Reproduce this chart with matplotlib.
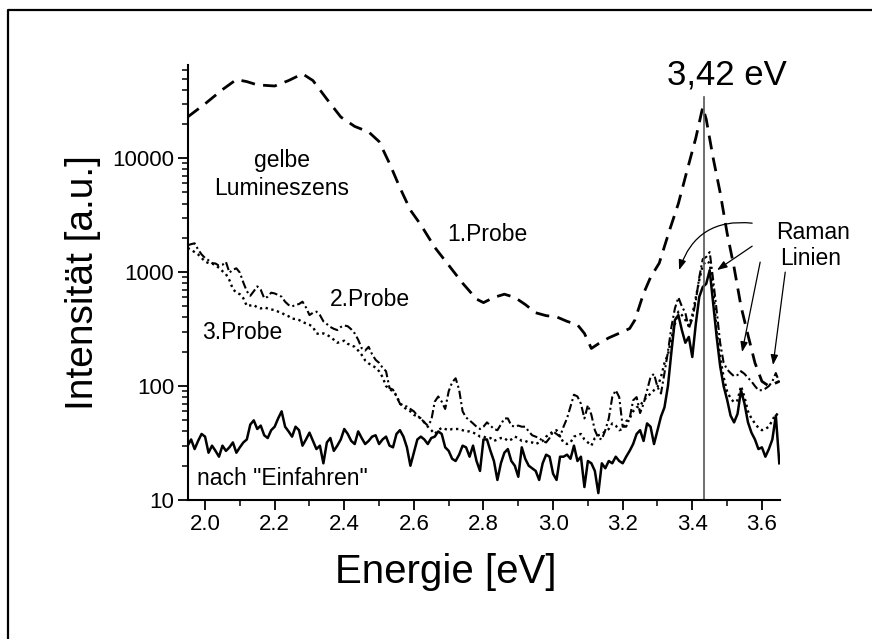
import numpy as np
import matplotlib
matplotlib.use("Agg")
import matplotlib.pyplot as plt
from matplotlib.ticker import LogLocator, MultipleLocator, NullFormatter
from matplotlib.lines import Line2D

plt.rcParams['font.family'] = ['Liberation Sans', 'DejaVu Sans']

# Energie-Raster der Messkurven (eV)
energie = np.round(np.arange(1.95, 3.6551, 0.01), 2)

# nach "Einfahren" (durchgezogen)
probe_einfahren = [
    30, 34, 28, 33, 38, 36, 26, 30, 27, 24,
    30, 27, 29, 32, 26, 29, 32, 34, 46, 50,
    42, 45, 37, 35, 41, 44, 52, 60, 44, 40,
    36, 44, 41, 30, 34, 39, 33, 28, 30, 21,
    32, 35, 27, 30, 34, 42, 38, 33, 31, 40,
    35, 31, 33, 36, 37, 31, 34,
    36, 30, 29, 38, 41, 36, 29, 20, 26, 34,
    36, 34, 31, 35, 36, 40, 38, 29, 27, 23,
    22, 25, 30, 29, 24, 30, 22, 18, 34, 34,
    27, 22, 15, 21, 26, 28, 22, 20, 16, 29,
    23, 20, 19, 18, 15, 21, 25, 24, 17, 15,
    24, 24, 25, 23, 30, 22, 24,
    13, 22, 21, 18, 11.5, 21, 19, 22, 21, 24,
    22, 21, 24, 27, 31, 38, 41, 33, 47, 44,
    31, 41, 54,
    65, 100, 200, 380, 420, 310, 240, 270, 180, 350,
    607, 740, 790, 1040, 530, 270, 150, 100, 76, 55,
    48, 57, 92, 70, 48, 39, 34, 28, 29, 24,
    28, 34, 55, 21,
]

# 2.Probe (strichpunktiert)
probe2 = [
    1720, 1760, 1790, 1580, 1430, 1330, 1270, 1200, 1190, 1140,
    1160, 1230, 990, 1050, 1080, 990, 810, 680, 620, 680,
    750, 700, 590, 608, 660, 650, 630, 608, 550, 515,
    500, 515, 525, 550, 490, 420, 440, 450, 420, 370,
    350, 330, 318, 310, 330, 340, 335, 315, 290, 255,
    215, 205, 221, 190, 170, 160, 145,
    135, 96, 93, 81, 70, 68, 66, 63, 60, 55,
    52, 48, 45, 50, 73, 81, 73, 63, 90, 108,
    117, 93, 60, 53, 50, 47, 44, 42, 44, 48,
    45, 42, 41, 46, 52, 52, 45, 44, 45, 44,
    44, 40, 37, 36, 35, 33, 32, 35, 40, 38,
    36, 44, 52, 66, 84, 81, 70,
    52, 68, 56, 41, 35, 34, 41, 52, 80, 92,
    80, 44, 44, 52, 75, 80, 58, 70, 92, 120,
    128, 98, 86,
    130, 200, 330, 480, 600, 500, 440, 320, 390, 560,
    900, 1300, 1360, 1500, 850, 460, 240, 160, 140, 130,
    122, 125, 135, 128, 118, 110, 100, 92, 92, 95,
    100, 110, 130, 108,
]

# 3.Probe (gepunktet)
probe3 = [
    1630, 1570, 1500, 1430, 1330, 1240, 1200, 1190, 1150, 1090,
    1020, 960, 850, 710, 660, 640, 590, 505, 510, 515,
    490, 480, 490, 480, 470, 465, 450, 440, 420, 410,
    390, 388, 380, 365, 355, 345, 330, 290, 285, 290,
    282, 270, 255, 240, 245, 250, 235, 228, 221, 205,
    188, 168, 158, 152, 145, 135, 120,
    100, 94, 90, 83, 70, 66, 62, 60, 56, 54,
    52, 48, 44, 41, 38, 41, 43, 42, 41, 42,
    42, 42, 41, 40, 40, 39, 38, 36, 36, 35,
    35, 33, 34, 35, 35, 33, 34, 36, 35, 33,
    33, 32, 32, 31, 32, 33, 36, 38, 40, 41,
    36, 32, 31, 32, 36, 37, 38,
    34, 32, 30, 35, 37, 38, 40, 42, 47, 45,
    41, 42, 49, 52, 60, 65, 67, 75, 80, 86,
    92, 98, 120,
    159, 190, 260, 350, 450, 420, 380, 340, 420, 600,
    850, 1150, 1250, 1200, 700, 300, 180, 120, 90, 78,
    72, 75, 100, 80, 60, 52, 47, 43, 41, 42,
    44, 50, 57, 55,
]

# 1.Probe (gestrichelt, glatt)
energie1 = [1.95, 2.00, 2.05, 2.09, 2.12, 2.15, 2.20, 2.24, 2.28, 2.31,
            2.35, 2.39, 2.43, 2.47, 2.50, 2.53, 2.56, 2.59, 2.62, 2.66,
            2.70, 2.74, 2.78, 2.80, 2.83, 2.86, 2.89, 2.92, 2.95, 2.98,
            3.01, 3.04, 3.07, 3.09, 3.11, 3.13, 3.16, 3.20, 3.22, 3.235,
            3.26, 3.28, 3.305, 3.335, 3.36, 3.385, 3.41, 3.425, 3.43, 3.44,
            3.46, 3.48, 3.50, 3.52, 3.54, 3.56, 3.58, 3.60, 3.62, 3.65]
probe1 = [23000, 30000, 40000, 49000, 47000, 44000, 43000, 48000, 55000, 48000,
          33000, 23000, 19000, 17000, 14000, 9000, 5500, 3500, 2600, 1650,
          1150, 800, 580, 540, 600, 640, 600, 520, 440, 415,
          405, 370, 345, 290, 214, 235, 265, 300, 320, 380,
          650, 900, 1200, 2350, 4000, 7800, 15000, 24000, 28000, 22000,
          10000, 5000, 2200, 1100, 500, 280, 160, 110, 100, 110]

raman_linie = 3.435

fig = plt.figure(figsize=(8.72, 6.39), dpi=100)
ax = fig.add_axes([0.2156, 0.2175, 0.6789, 0.6805])

ax.plot(energie1, probe1, color='black', lw=2.0, linestyle=(0, (5, 3)))
ax.plot(energie, probe2, color='black', lw=1.5, linestyle=(0, (4, 1.5, 1, 1.5)))
ax.plot(energie, probe3, color='black', lw=1.7, linestyle=(0, (1, 1.5)))
ax.plot(energie, probe_einfahren, color='black', lw=1.8)
ax.plot([raman_linie, raman_linie], [10, 34300], color='#555555', lw=1.2)

ax.set_yscale('log')
ax.set_xlim(1.951, 3.652)
ax.set_ylim(10, 65500)

ax.set_yticks([10, 100, 1000, 10000])
ax.set_yticklabels(['10', '100', '1000', '10000'])
ax.yaxis.set_minor_locator(LogLocator(base=10, subs=np.arange(2, 10)))
ax.yaxis.set_minor_formatter(NullFormatter())
ax.xaxis.set_major_locator(MultipleLocator(0.2))
ax.xaxis.set_minor_locator(MultipleLocator(0.1))
ax.xaxis.set_major_formatter(plt.FuncFormatter(lambda v, p: '%.1f' % v))

for s in ['top', 'right']:
    ax.spines[s].set_visible(False)
for s in ['left', 'bottom']:
    ax.spines[s].set_linewidth(1.5)
ax.tick_params(which='major', direction='out', length=7, width=1.3, labelsize=16, pad=3)
ax.tick_params(which='minor', direction='out', length=4, width=1.1)

ax.set_xlabel('Energie [eV]', fontsize=29)
ax.xaxis.set_label_coords(0.436, -0.122)
ax.set_ylabel('Intensität [a.u.]', fontsize=28, labelpad=8)

ts = 16.5
ax.text(2.22, 9600, 'gelbe', fontsize=ts, ha='center', va='center')
ax.text(2.22, 5460, 'Lumineszens', fontsize=ts, ha='center', va='center')
ax.text(2.81, 2150, '1.Probe', fontsize=ts, ha='center', va='center')
ax.text(2.474, 580, '2.Probe', fontsize=ts, ha='center', va='center')
ax.text(2.106, 298, '3.Probe', fontsize=ts, ha='center', va='center')
ax.text(2.221, 15.6, 'nach "Einfahren"', fontsize=ts, ha='center', va='center')
ax.text(3.747, 2245, 'Raman', fontsize=ts, ha='center', va='center', clip_on=False)
ax.text(3.741, 1327, 'Linien', fontsize=ts, ha='center', va='center', clip_on=False)
ax.text(3.50, 53400, '3,42 eV', fontsize=25, ha='center', va='center', clip_on=False)

akw = dict(arrowstyle='-|>,head_length=0.6,head_width=0.22', color='black', lw=0.9,
           shrinkA=0, shrinkB=0)
ax.annotate('', xy=(3.362, 1043), xytext=(3.572, 2690),
            arrowprops=dict(akw, connectionstyle='arc3,rad=0.4'), annotation_clip=False)
ax.annotate('', xy=(3.471, 1043), xytext=(3.572, 1690), arrowprops=akw, annotation_clip=False)
ax.annotate('', xy=(3.543, 199), xytext=(3.595, 1224), arrowprops=akw, annotation_clip=False)
ax.annotate('', xy=(3.632, 153), xytext=(3.667, 1000), arrowprops=akw, annotation_clip=False)

# Rahmen um die Abbildung (links und oben)
fig.add_artist(Line2D([8 / 872, 8 / 872, 1.0], [0.0, 1 - 10 / 639, 1 - 10 / 639],
                      transform=fig.transFigure, color='black', lw=1.6))

fig.savefig('out.png', dpi=100)
